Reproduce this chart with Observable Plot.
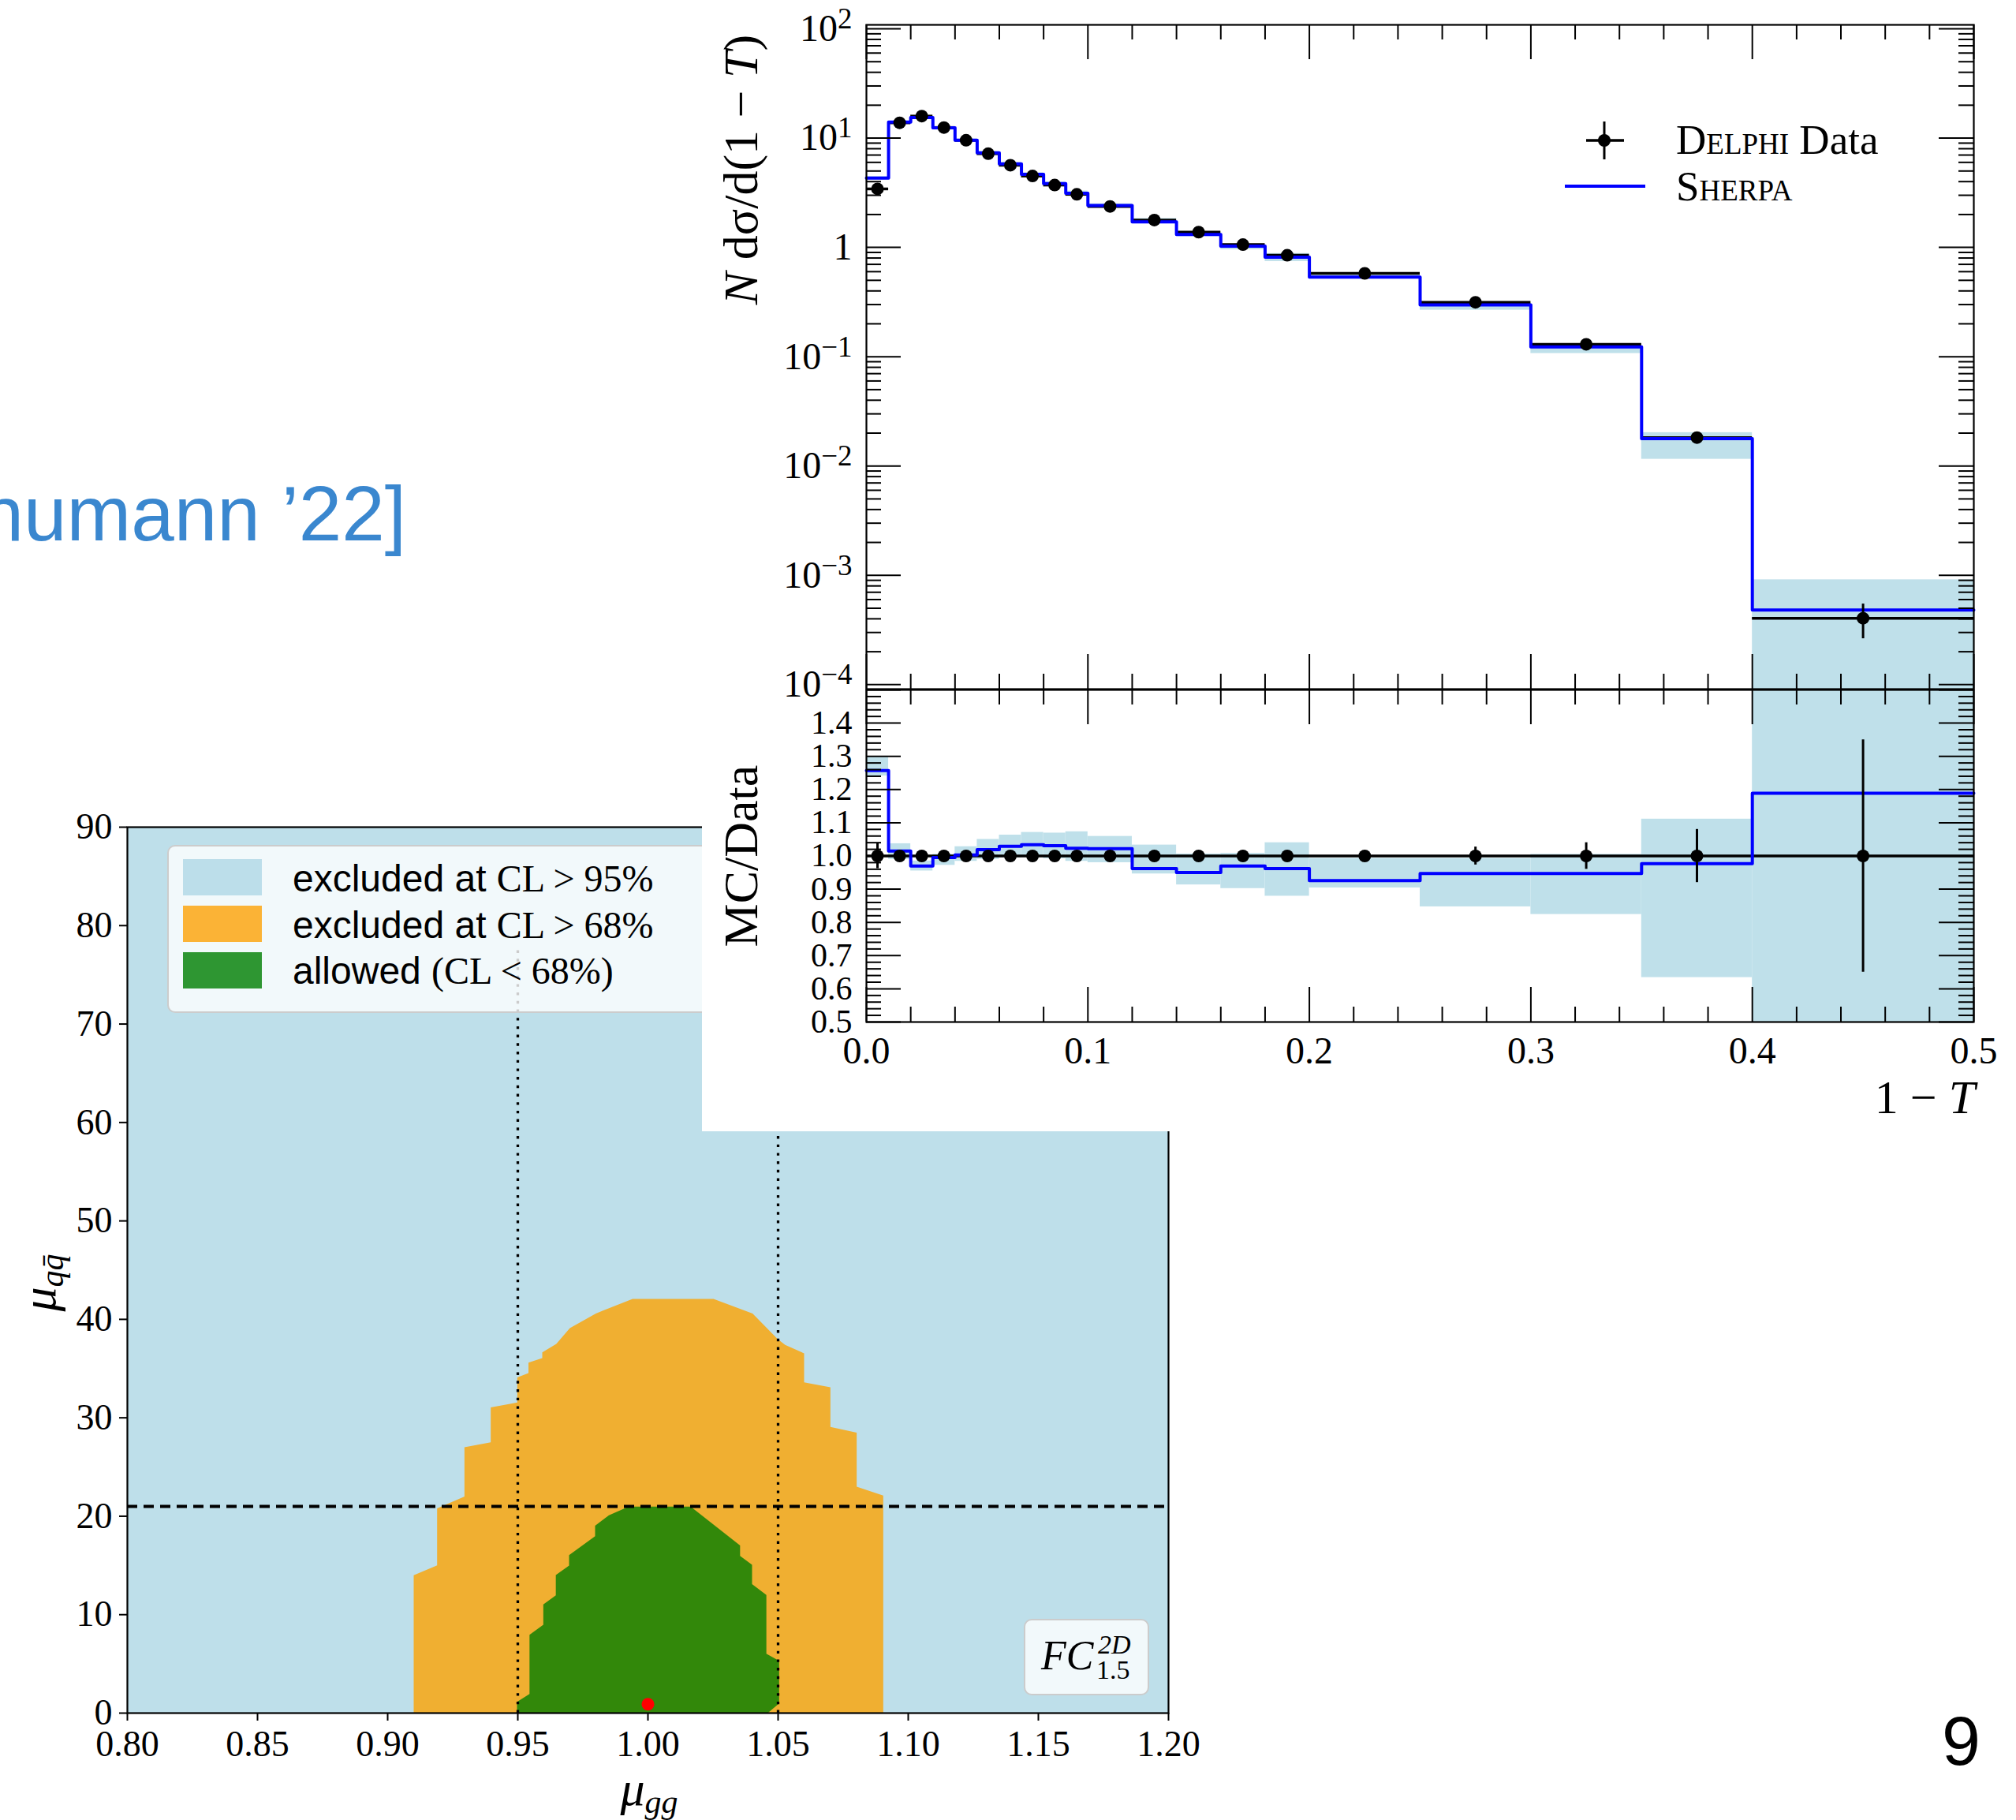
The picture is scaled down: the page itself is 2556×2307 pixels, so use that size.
<!DOCTYPE html>
<html><head><meta charset="utf-8">
<script src="https://cdn.jsdelivr.net/npm/d3@7"></script>
<script src="https://cdn.jsdelivr.net/npm/@observablehq/plot@0.6"></script>
<style>
html,body{margin:0;padding:0;background:#fff;}
body{width:2556px;height:2307px;position:relative;overflow:hidden;}
.layer{position:absolute;left:0;top:0;}
</style></head><body>
<div id="lower" class="layer"></div>
<svg id="lowerText" class="layer" width="2556" height="2307" xmlns="http://www.w3.org/2000/svg">
  <rect x="213" y="1072" width="800" height="211" rx="9" fill="#ffffff" fill-opacity="0.8" stroke="#cccccc" stroke-width="2"/>
  <rect x="232" y="1089" width="100" height="46" fill="#BCDEEA"/>
  <rect x="232" y="1148" width="100" height="46" fill="#FBB336"/>
  <rect x="232" y="1207" width="100" height="46" fill="#2E9632"/>
  <g font-family="Liberation Sans" font-size="48" fill="#000">
    <text x="371" y="1130">excluded at <tspan font-family="Liberation Serif">CL &gt; 95%</tspan></text>
    <text x="371" y="1189">excluded at <tspan font-family="Liberation Serif">CL &gt; 68%</tspan></text>
    <text x="371" y="1247">allowed <tspan font-family="Liberation Serif">(CL &lt; 68%)</tspan></text>
  </g>
  <rect x="1299" y="2053" width="157" height="95" rx="9" fill="#ffffff" fill-opacity="0.8" stroke="#cccccc" stroke-width="2"/>
  <g font-family="Liberation Serif" fill="#000">
    <text x="1320" y="2116" font-size="52" font-style="italic">FC</text>
    <text x="1392" y="2096" font-size="34" font-style="italic">2D</text>
    <text x="1390" y="2128" font-size="34">1.5</text>
    <text x="823" y="2288" font-size="62" text-anchor="middle"><tspan font-style="italic">μ</tspan><tspan font-style="italic" font-size="42" dy="10">gg</tspan></text>
    <text transform="translate(70,1626) rotate(-90)" font-size="62" text-anchor="middle"><tspan font-style="italic">μ</tspan><tspan font-style="italic" font-size="42" dy="10">qq̄</tspan></text>
  </g>
</svg>
<div id="whitebox" style="position:absolute;left:890px;top:0;width:1666px;height:1434px;background:#fff"></div>
<div id="upperMain" class="layer"></div>
<div id="upperRatio" class="layer"></div>
<svg id="upperText" class="layer" width="2556" height="2307" xmlns="http://www.w3.org/2000/svg">
  <g font-family="Liberation Serif" fill="#000">
    <text transform="translate(960,215) rotate(-90)" font-size="62" text-anchor="middle"><tspan font-style="italic">N</tspan> dσ/d(1 − <tspan font-style="italic">T</tspan>)</text>
    <text transform="translate(960,1085) rotate(-90)" font-size="62" text-anchor="middle">MC/Data</text>
    <text x="2504" y="1411" font-size="60" text-anchor="end">1 − <tspan font-style="italic">T</tspan></text>
    <line x1="2034" y1="154" x2="2034" y2="202" stroke="#000" stroke-width="3"/>
    <line x1="2011" y1="178" x2="2059" y2="178" stroke="#000" stroke-width="3.5"/>
    <circle cx="2034" cy="178" r="8" fill="#000"/>
    <line x1="1984" y1="236" x2="2086" y2="236" stroke="#0000ff" stroke-width="4"/>
    <text x="2125" y="195" font-size="53"><tspan font-variant="small-caps">Delphi</tspan> Data</text>
    <text x="2125" y="254" font-size="53" font-variant="small-caps">Sherpa</text>
  </g>
  <text x="515" y="685" text-anchor="end" font-family="Liberation Sans" font-size="98" fill="#3A87CF">humann ’22]</text>
  <text x="2511" y="2237" text-anchor="end" font-family="Liberation Sans" font-size="88" fill="#000">9</text>
</svg>
<script>
// ---------- Thrust distribution (DELPHI data vs SHERPA) ----------
const thrustLo = [0,0.01,0.02,0.03,0.04,0.05,0.06,0.07,0.08,0.09,0.10,0.12,0.14,0.16,0.18,0.20,0.25,0.30,0.35,0.40];
const thrustHi = [0.01,0.02,0.03,0.04,0.05,0.06,0.07,0.08,0.09,0.10,0.12,0.14,0.16,0.18,0.20,0.25,0.30,0.35,0.40,0.50];
const delphiValue = [3.43,13.8,15.9,12.5,9.55,7.2,5.65,4.5,3.72,3.06,2.37,1.78,1.38,1.06,0.847,0.579,0.315,0.130,0.0182,0.000405];
const delphiRelErr = [0.038,0.012,0.01,0.01,0.01,0.01,0.01,0.01,0.01,0.01,0.01,0.012,0.012,0.012,0.015,0.015,0.027,0.04,0.08,0.35];
const sherpaRatio = [1.257,1.015,0.970,0.995,1.003,1.019,1.029,1.034,1.031,1.023,1.022,0.962,0.950,0.970,0.962,0.926,0.947,0.947,0.977,1.189];
const sherpaBandLo = [1.241,0.99,0.955,0.972,0.984,0.99,0.995,1.0,0.992,0.984,0.98,0.946,0.913,0.902,0.879,0.904,0.847,0.824,0.634,0.1];
const sherpaBandHi = [1.298,1.037,0.985,1.005,1.028,1.05,1.063,1.071,1.069,1.073,1.059,1.033,1.006,1.008,1.040,0.993,0.993,1.005,1.111,2.25];
const thrustDomain = [0, 0.5];
const mainYDomain = [9.1e-5, 108.7];
const mainYTicks = [1e-4, 1e-3, 1e-2, 1e-1, 1, 10, 100];
const mainYTickLabels = ["10^−4","10^−3","10^−2","10^−1","1","10^1","10^2"];
const ratioYDomain = [0.5, 1.5];
const ratioYTicks = [0.5,0.6,0.7,0.8,0.9,1.0,1.1,1.2,1.3,1.4];
const ratioXTicks = [0,0.1,0.2,0.3,0.4,0.5];
const ratioXTickLabels = ["0.0","0.1","0.2","0.3","0.4","0.5"];
const ratioReference = [1];

// ---------- mu_gg / mu_qq exclusion plot ----------
const muGGDomain = [0.8, 1.2];
const muQQDomain = [0, 90];
const muGGTicks = [0.80,0.85,0.90,0.95,1.00,1.05,1.10,1.15,1.20];
const muQQTicks = [0,10,20,30,40,50,60,70,80,90];
const orangeContour = [[0.910,0],[0.910,14.0],[0.919,15.0],[0.919,20.8],[0.9295,22.0],[0.9295,27.0],[0.9396,27.5],[0.9396,31.05],[0.9498,31.55],[0.9498,34.1],[0.9541,34.55],[0.9541,35.6],[0.9594,36.07],[0.9594,36.65],[0.9648,37.5],[0.970,39.1],[0.980,40.6],[0.9941,42.07],[1.0252,42.07],[1.0402,40.6],[1.0498,38.0],[1.0527,37.4],[1.060,36.55],[1.060,33.6],[1.0701,33.1],[1.0701,29.07],[1.0802,28.5],[1.0802,23.0],[1.0904,22.1],[1.0904,0]];
const greenContour = [[0.9497,0],[0.9497,1.15],[0.9545,1.95],[0.9545,7.96],[0.9598,8.97],[0.9598,11.03],[0.9646,11.96],[0.9646,14.02],[0.9697,14.98],[0.9697,16.05],[0.9797,17.97],[0.9797,19.04],[0.985,20.1],[0.9926,20.97],[1.0164,20.97],[1.0354,17.04],[1.0354,15.97],[1.040,15.07],[1.040,13.1],[1.0455,12.0],[1.0455,6.03],[1.0504,5.3],[1.0504,0.98],[1.046,0]];
const bestFit = [[1.0, 0.9]];
const muQQLimit = [21];
const muGGLimits = [0.95, 1.05];
const muGGLimitExtent = [0, 78];

// ---------- build tables ----------
const bins = thrustLo.map((lo, i) => ({
  lo, hi: thrustHi[i], mid: (lo + thrustHi[i]) / 2,
  data: delphiValue[i], err: delphiRelErr[i],
  ratio: sherpaRatio[i], bandLo: sherpaBandLo[i], bandHi: sherpaBandHi[i]
}));
const clampTo = (v, dom) => Math.max(dom[0], Math.min(dom[1], v));
const lastBin = bins[bins.length - 1];
const mcSteps = bins.map(b => ({x: b.lo, main: b.data * b.ratio, ratio: b.ratio}))
  .concat([{x: lastBin.hi, main: lastBin.data * lastBin.ratio, ratio: lastBin.ratio}]);

const minorX = d3.range(1, 25).map(i => +(i * 0.02).toFixed(2)).filter(v => Math.abs(v * 10 - Math.round(v * 10)) > 1e-6);
const minorLogY = mainYTicks.slice(0, -1).flatMap(d => [2,3,4,5,6,7,8,9].map(m => d * m)).filter(v => v > mainYDomain[0] && v < mainYDomain[1]);
const minorRatioY = d3.range(26, 75).map(i => +(i * 0.02).toFixed(2)).filter(v => Math.abs(v * 10 - Math.round(v * 10)) > 1e-6);

const PAGE_W = 2556, PAGE_H = 2307;
const bandColor = "#BFE0EA";

function inwardTicks(W, H, xMajor, xMinor, yMajor, yMinor) {
  const big = 44, small = 19, sw = 2;
  return [
    Plot.tickY(yMajor, {y: d => d, insetRight: W - big, strokeWidth: sw}),
    Plot.tickY(yMajor, {y: d => d, insetLeft: W - big, strokeWidth: sw}),
    Plot.tickY(yMinor, {y: d => d, insetRight: W - small, strokeWidth: sw}),
    Plot.tickY(yMinor, {y: d => d, insetLeft: W - small, strokeWidth: sw}),
    Plot.tickX(xMajor, {x: d => d, insetBottom: H - big, strokeWidth: sw}),
    Plot.tickX(xMajor, {x: d => d, insetTop: H - big, strokeWidth: sw}),
    Plot.tickX(xMinor, {x: d => d, insetBottom: H - small, strokeWidth: sw}),
    Plot.tickX(xMinor, {x: d => d, insetTop: H - small, strokeWidth: sw})
  ];
}

// ---------- lower chart ----------
const L = {left: 161, right: 1481, top: 1048, bottom: 2171};
const lowerW = L.right - L.left, lowerH = L.bottom - L.top;
const lower = Plot.plot({
  width: PAGE_W, height: PAGE_H,
  marginLeft: L.left, marginRight: PAGE_W - L.right, marginTop: L.top, marginBottom: PAGE_H - L.bottom,
  style: {background: "transparent", fontFamily: "Liberation Serif", fontSize: "46px", color: "black", overflow: "visible"},
  x: {domain: muGGDomain, ticks: muGGTicks, tickFormat: d3.format(".2f"), tickSize: 0, tickPadding: 22, label: null},
  y: {domain: muQQDomain, ticks: muQQTicks, tickFormat: d3.format("d"), tickSize: 0, tickPadding: 19, label: null},
  marks: [
    Plot.frame({fill: "#BEDFEA", stroke: "none"}),
    Plot.line(orangeContour, {x: d => d[0], y: d => d[1], fill: "#F0AF31", stroke: "none", curve: "linear"}),
    Plot.line(greenContour, {x: d => d[0], y: d => d[1], fill: "#32880A", stroke: "none", curve: "linear"}),
    Plot.ruleY(muQQLimit, {y: d => d, stroke: "black", strokeWidth: 4, strokeDasharray: "13,8"}),
    Plot.ruleX(muGGLimits, {x: d => d, y1: muGGLimitExtent[0], y2: muGGLimitExtent[1], stroke: "black", strokeWidth: 3.3, strokeDasharray: "3.4,7.3"}),
    Plot.dot(bestFit, {x: d => d[0], y: d => d[1], r: 8, fill: "#ff0000", stroke: "none"}),
    Plot.tickX(muGGTicks, {x: d => d, insetTop: lowerH, insetBottom: -10, strokeWidth: 2}),
    Plot.tickY(muQQTicks, {y: d => d, insetRight: lowerW, insetLeft: -10, strokeWidth: 2}),
    Plot.frame({stroke: "black", strokeWidth: 2.2})
  ]
});
document.getElementById("lower").appendChild(lower);

// ---------- upper main panel ----------
const U = {left: 1098, right: 2502, top: 31, mid: 873, ratioTop: 874, bottom: 1295};
const upW = U.right - U.left, mainH = U.mid - U.top, ratioH = U.bottom - U.ratioTop;
const mainPlot = Plot.plot({
  width: PAGE_W, height: PAGE_H,
  marginLeft: U.left, marginRight: PAGE_W - U.right, marginTop: U.top, marginBottom: PAGE_H - U.mid,
  style: {background: "transparent", fontFamily: "Liberation Serif", fontSize: "48px", color: "black", overflow: "visible"},
  x: {domain: thrustDomain, axis: null},
  y: {type: "log", domain: mainYDomain, ticks: mainYTicks,
      tickFormat: d => mainYTickLabels[mainYTicks.indexOf(d)], tickSize: 0, tickPadding: 18, label: null},
  marks: [
    Plot.rect(bins, {x1: "lo", x2: "hi", y1: d => clampTo(d.data * d.bandLo, mainYDomain), y2: d => clampTo(d.data * d.bandHi, mainYDomain), fill: bandColor}),
    Plot.ruleY(bins, {y: "data", x1: "lo", x2: "hi", stroke: "black", strokeWidth: 3.5}),
    Plot.line(mcSteps, {x: "x", y: "main", stroke: "#0000ff", strokeWidth: 4, curve: "step-after"}),
    Plot.ruleX(bins, {x: "mid", y1: d => d.data * (1 - d.err), y2: d => d.data * (1 + d.err), stroke: "black", strokeWidth: 3}),
    Plot.dot(bins, {x: "mid", y: "data", r: 8, fill: "black", stroke: "none"}),
    ...inwardTicks(upW, mainH, ratioXTicks, minorX, mainYTicks, minorLogY),
    Plot.frame({stroke: "black", strokeWidth: 2.2})
  ]
});
// exponent rendering for log tick labels
mainPlot.querySelectorAll("text").forEach(t => {
  const m = /^10\^(.+)$/.exec(t.textContent);
  if (!m) return;
  t.textContent = "10";
  const s = document.createElementNS("http://www.w3.org/2000/svg", "tspan");
  s.setAttribute("dy", "-16");
  s.style.fontSize = "37px";
  s.textContent = m[1];
  t.appendChild(s);
});
document.getElementById("upperMain").appendChild(mainPlot);

// ---------- upper ratio panel ----------
const ratioPlot = Plot.plot({
  width: PAGE_W, height: PAGE_H,
  marginLeft: U.left, marginRight: PAGE_W - U.right, marginTop: U.ratioTop, marginBottom: PAGE_H - U.bottom,
  style: {background: "transparent", fontFamily: "Liberation Serif", fontSize: "48px", color: "black", overflow: "visible"},
  x: {domain: thrustDomain, ticks: ratioXTicks, tickFormat: d => ratioXTickLabels[ratioXTicks.indexOf(d)], tickSize: 0, tickPadding: 18, label: null},
  y: {domain: ratioYDomain, ticks: ratioYTicks, tickFormat: d3.format(".1f"), tickSize: 0, tickPadding: 18, label: null},
  marks: [
    Plot.rect(bins, {x1: "lo", x2: "hi", y1: d => clampTo(d.bandLo, ratioYDomain), y2: d => clampTo(d.bandHi, ratioYDomain), fill: bandColor}),
    Plot.ruleY(ratioReference, {y: d => d, stroke: "black", strokeWidth: 3.5}),
    Plot.line(mcSteps, {x: "x", y: "ratio", stroke: "#0000ff", strokeWidth: 4, curve: "step-after"}),
    Plot.ruleX(bins, {x: "mid", y1: d => clampTo(1 - d.err, ratioYDomain), y2: d => clampTo(1 + d.err, ratioYDomain), stroke: "black", strokeWidth: 3}),
    Plot.dot(bins, {x: "mid", y: () => ratioReference[0], r: 8, fill: "black", stroke: "none"}),
    ...inwardTicks(upW, ratioH, ratioXTicks, minorX, ratioYTicks.concat([1.5]), minorRatioY),
    Plot.frame({stroke: "black", strokeWidth: 2.2})
  ]
});
// tighter ratio tick labels (they are stacked every 0.1)
ratioPlot.querySelectorAll('[aria-label^="y-axis"] text').forEach(t => { t.style.fontSize = "42px"; });
document.getElementById("upperRatio").appendChild(ratioPlot);
</script>
</body></html>
